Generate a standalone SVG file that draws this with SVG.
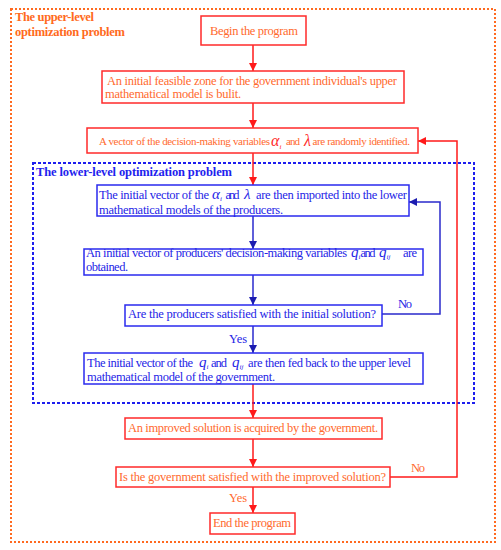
<svg xmlns="http://www.w3.org/2000/svg" width="501" height="550" viewBox="0 0 501 550" font-family="'Liberation Serif', 'Times New Roman', serif">
<defs>
<marker id="ar" viewBox="0 0 10 10" refX="10" refY="5" markerWidth="8" markerHeight="8" markerUnits="userSpaceOnUse" orient="auto"><path d="M0,0 L10,5 L0,10 z" fill="#FF1A1A"/></marker>
<marker id="ab" viewBox="0 0 10 10" refX="10" refY="5" markerWidth="8" markerHeight="8" markerUnits="userSpaceOnUse" orient="auto"><path d="M0,0 L10,5 L0,10 z" fill="#1C1CB0"/></marker>
<style>
text{font-family:'Liberation Serif','Times New Roman',serif;}
.ro{fill:#FF6A2E;font-size:12.5px;}
.rs{fill:#FF6A2E;font-size:11px;}
.bt{fill:#2424E6;font-size:12.5px;}
.rbox{fill:#fff;stroke:#FF2A2A;stroke-width:1.5;}
.bbox{fill:#fff;stroke:#2A2AEE;stroke-width:1.5;}
.rl{fill:none;stroke:#FF1A1A;stroke-width:1.5;}
.bl{fill:none;stroke:#2A2ACC;stroke-width:1.5;}
.mr{fill:#FF2A2A;font-style:italic;font-size:16px;}
.mb{fill:#2424E6;font-style:italic;font-size:15px;}
.sub{font-size:7px;font-style:italic;}
.ttl{font-weight:bold;font-size:12.5px;}
</style>
</defs>
<rect width="501" height="550" fill="#fff"/>

<g id="upper-frame">
<rect x="11" y="9" width="484" height="533" fill="none" stroke="#FF6A20" stroke-width="2" stroke-dasharray="2,2"/>
<text class="ttl" x="15" y="21" fill="#FF6A20" textLength="79">The upper-level</text>
<text class="ttl" x="15" y="36" fill="#FF6A20" textLength="110">optimization problem</text>
</g>

<g id="lower-frame">
<rect x="33" y="163" width="441" height="240" fill="none" stroke="#1E1EEE" stroke-width="2" stroke-dasharray="3,2"/>
<text class="ttl" x="36" y="176" fill="#1E1EEE" textLength="196">The lower-level optimization problem</text>
</g>

<g id="connectors">
<line class="rl" x1="253" y1="45" x2="253" y2="71" marker-end="url(#ar)"/>
<line class="rl" x1="253" y1="103" x2="253" y2="128" marker-end="url(#ar)"/>
<line class="rl" x1="253" y1="153" x2="253" y2="185" marker-end="url(#ar)"/>
<line class="bl" x1="253" y1="216" x2="253" y2="249" marker-end="url(#ab)"/>
<line class="bl" x1="253" y1="275" x2="253" y2="305" marker-end="url(#ab)"/>
<line class="bl" x1="253" y1="326" x2="253" y2="353" marker-end="url(#ab)"/>
<polyline class="bl" points="382,314 440,314 440,202 409,202" marker-end="url(#ab)"/>
<line class="rl" x1="253" y1="384" x2="253" y2="418" marker-end="url(#ar)"/>
<line class="rl" x1="253" y1="439" x2="253" y2="467" marker-end="url(#ar)"/>
<line class="rl" x1="253" y1="487" x2="253" y2="513" marker-end="url(#ar)"/>
<polyline class="rl" points="390,477 457,477 457,141 418,141" marker-end="url(#ar)"/>
<text class="bt" x="398" y="308" textLength="14">No</text>
<text class="bt" x="229" y="343" textLength="18">Yes</text>
<text class="ro" x="411" y="472" textLength="14">No</text>
<text class="ro" x="229" y="502" textLength="18">Yes</text>
</g>

<g id="begin">
<rect class="rbox" x="201" y="16" width="105" height="29"/>
<text class="ro" x="210" y="35" textLength="88">Begin the program</text>
</g>

<g id="feasible-zone">
<rect class="rbox" x="102" y="71" width="302" height="32"/>
<text class="ro" x="107" y="85" textLength="290">An initial feasible zone for the government individual's upper</text>
<text class="ro" x="105" y="98" textLength="136">mathematical model  is bulit.</text>
</g>

<g id="random-vector">
<rect class="rbox" x="87" y="128" width="331" height="25"/>
<text class="rs" x="99" y="145" textLength="171">A vector of the decision-making variables</text>
<text class="mr" x="271" y="146">α<tspan class="sub" dy="3">i</tspan></text>
<text class="rs" x="286" y="145" textLength="14">and</text>
<text class="mr" x="304" y="146">λ</text>
<text class="rs" x="312.5" y="145" textLength="97.5">are randomly identified.</text>
</g>

<g id="import-lower">
<rect class="bbox" x="97" y="185" width="312" height="31"/>
<text class="bt" x="99" y="199" textLength="110">The initial vector of the</text>
<text class="mb" x="212" y="199" font-size="13.5">α<tspan class="sub" dy="1.5">i</tspan></text>
<text class="bt" x="225.5" y="199" textLength="14">and</text>
<text class="mb" x="244" y="199" font-size="14">λ</text>
<text class="bt" x="256" y="199" textLength="151">are then imported into the lower</text>
<text class="bt" x="99" y="214" textLength="184">mathematical models of the producers.</text>
</g>

<g id="producers-vector">
<rect class="bbox" x="84" y="249" width="339" height="26"/>
<text class="bt" x="86" y="257" textLength="261">An initial vector of producers' decision-making variables</text>
<text class="mb" x="351" y="257">q<tspan class="sub" dy="2">i</tspan></text>
<text class="bt" x="360.5" y="257" textLength="15">and</text>
<text class="mb" x="379" y="257">q<tspan class="sub" dy="2">ij</tspan></text>
<text class="bt" x="403" y="257" textLength="14">are</text>
<text class="bt" x="86" y="271" textLength="42">obtained.</text>
</g>

<g id="producers-satisfied">
<rect class="bbox" x="125" y="305" width="257" height="21"/>
<text class="bt" x="128" y="318" textLength="248">Are the producers satisfied with the initial solution?</text>
</g>

<g id="feed-back">
<rect class="bbox" x="84" y="353" width="339" height="31"/>
<text class="bt" x="87" y="367" textLength="106">The initial vector of the</text>
<text class="mb" x="199" y="367">q<tspan class="sub" dy="2">i</tspan></text>
<text class="bt" x="211" y="367" textLength="16">and</text>
<text class="mb" x="232" y="367">q<tspan class="sub" dy="2">ij</tspan></text>
<text class="bt" x="248" y="367" textLength="163">are then fed back to the upper level</text>
<text class="bt" x="87" y="381" textLength="188">mathematical model of the government.</text>
</g>

<g id="improved-solution">
<rect class="rbox" x="125" y="418" width="257" height="21"/>
<text class="ro" x="128" y="432" textLength="250">An improved solution is acquired by the government.</text>
</g>

<g id="government-satisfied">
<rect class="rbox" x="116" y="467" width="274" height="20"/>
<text class="ro" x="119" y="481" textLength="267">Is the government satisfied with the improved solution?</text>
</g>

<g id="end">
<rect class="rbox" x="210" y="513" width="85" height="21"/>
<text class="ro" x="213" y="527" textLength="78">End the program</text>
</g>
</svg>
